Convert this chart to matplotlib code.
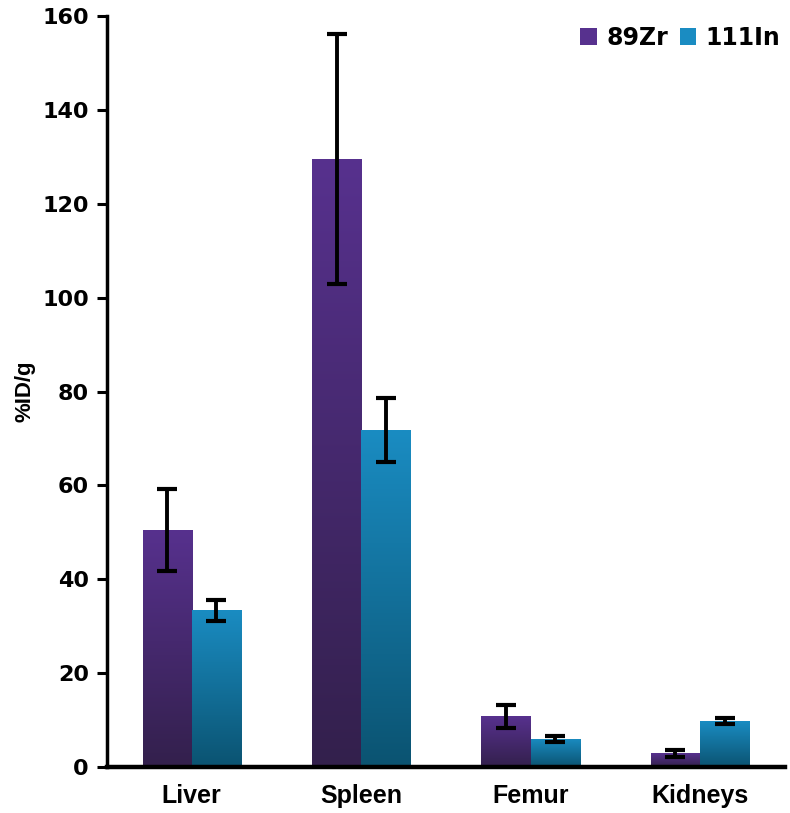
import matplotlib
matplotlib.use("Agg")
import matplotlib.pyplot as plt
import numpy as np
from matplotlib.colors import LinearSegmentedColormap
from matplotlib.patches import Patch

organs = ["Liver", "Spleen", "Femur", "Kidneys"]
zr = [50.5, 129.5, 10.8, 2.9]
zr_err = [8.7, 26.7, 2.4, 0.7]
inn = [33.4, 71.8, 6.0, 9.8]
inn_err = [2.2, 6.9, 0.6, 0.7]
series_names = ["89Zr", "111In"]
yticks = [0, 20, 40, 60, 80, 100, 120, 140, 160]

# top / bottom colours of the gradient fill
purple = ("#57318e", "#33204c")
teal = ("#1a8cc2", "#0b5371")

fig = plt.figure(figsize=(7.9, 8.13), dpi=100)
ax = fig.add_axes([0.1354, 0.0566, 0.858, 0.9237])

x = np.arange(len(organs))
w = 0.29


def gradient_bars(xpos, vals, cols):
    bars = ax.bar(xpos, vals, w, color="none", edgecolor="none", zorder=2)
    cmap = LinearSegmentedColormap.from_list("g", [cols[1], cols[0]])
    grad = np.linspace(0, 1, 256).reshape(-1, 1)
    for b in bars:
        x0, y0 = b.get_x(), b.get_y()
        im = ax.imshow(grad, cmap=cmap, origin="lower", aspect="auto",
                       extent=[x0, x0 + b.get_width(), y0, y0 + b.get_height()],
                       zorder=2)
        im.set_clip_path(b)
    return bars


gradient_bars(x - w / 2, zr, purple)
gradient_bars(x + w / 2, inn, teal)

ekw = dict(fmt="none", ecolor="black", elinewidth=2.8, capsize=7.5, capthick=3, zorder=3)
ax.errorbar(x - w / 2, zr, yerr=zr_err, **ekw)
ax.errorbar(x + w / 2, inn, yerr=inn_err, **ekw)

ax.set_xlim(-0.5, 3.5)
ax.set_ylim(0, 160)
ax.set_yticks(yticks)
ax.set_yticklabels([str(t) for t in yticks], fontfamily="DejaVu Sans",
                   fontweight="bold", fontsize=16)
ax.set_xticks(x)
ax.set_xticklabels(organs, fontfamily=["Liberation Sans Narrow", "Liberation Sans"],
                   fontweight="bold", fontsize=18)
ax.tick_params(axis="x", length=0, pad=12)
ax.tick_params(axis="y", length=7, width=2.2, pad=6, direction="out")

for s in ["top", "right"]:
    ax.spines[s].set_visible(False)
ax.spines["left"].set_linewidth(2.5)
ax.spines["bottom"].set_linewidth(3.2)

ax.set_ylabel("%ID/g", fontfamily="Liberation Sans", fontweight="bold",
              fontsize=16)
ax.yaxis.set_label_coords(-0.105, 0.5)

handles = [Patch(facecolor=purple[0]), Patch(facecolor=teal[0])]
ax.legend(handles, series_names, loc="upper right", ncol=2, frameon=False,
          bbox_to_anchor=(1.025, 1.015), handlelength=0.7, handleheight=0.7,
          handletextpad=0.4, columnspacing=0.5,
          prop=dict(family="DejaVu Sans", weight="bold", size=17))

fig.savefig("out.png", dpi=100)
